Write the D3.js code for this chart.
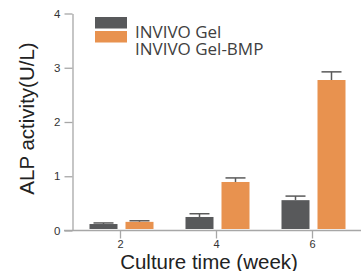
<!DOCTYPE html>
<html><head><meta charset="utf-8">
<script src="https://cdn.jsdelivr.net/npm/d3@7"></script>
<style>
html,body{margin:0;padding:0;background:#fff;}
svg{display:block;}
</style></head>
<body>
<svg id="c" width="361" height="271"></svg>
<script>
const categories = ["2", "4", "6"];
const seriesNames = ["INVIVO Gel", "INVIVO Gel-BMP"];
const gelValues = [0.11, 0.24, 0.55];
const gelErrors = [0.02, 0.06, 0.075];
const bmpValues = [0.15, 0.885, 2.765];
const bmpErrors = [0.02, 0.075, 0.15];
const yTicks = [0, 1, 2, 3, 4];
const colors = ["#58595b", "#e8924f"];

const svg = d3.select("#c");
const W = 361, H = 271;
const y = d3.scaleLinear().domain([0, 4]).range([230, 13]);
const x = d3.scaleBand().domain(categories).range([72.5, 360.5]).padding(0);
const x1 = d3.scaleBand().domain(seriesNames).range([0, 64]).paddingInner(0.2222).paddingOuter(0);

const axisColor = "#a7a7a7";
const font = "'Liberation Sans', Arial, Helvetica, sans-serif";

// x axis baseline
svg.append("line").attr("x1", 64).attr("x2", W).attr("y1", y(0) + 0.5).attr("y2", y(0) + 0.5)
  .attr("stroke", axisColor).attr("stroke-width", 1.3);

// y axis
const gy = svg.append("g").attr("transform", "translate(72.5,0.5)")
  .call(d3.axisLeft(y).tickValues(yTicks).tickFormat(d3.format("d")).tickSize(8).tickSizeOuter(0).tickPadding(4));
gy.select(".domain").attr("stroke", axisColor).attr("stroke-width", 1.3);
gy.selectAll(".tick line").attr("stroke", axisColor).attr("stroke-width", 1.3);
gy.selectAll(".tick text").attr("fill", "#333").style("font-family", font).style("font-size", "11.5px");

// x axis ticks
const gx = svg.append("g").attr("transform", `translate(0,${y(0) + 0.5})`)
  .call(d3.axisBottom(x).tickSize(8).tickSizeOuter(0).tickPadding(2));
gx.select(".domain").remove();
gx.selectAll(".tick line").attr("stroke", axisColor).attr("stroke-width", 1.3);
gx.selectAll(".tick text").attr("fill", "#333").style("font-family", font).style("font-size", "11px");

// bars
const rows = categories.map((c, i) => [
  {cat: c, s: seriesNames[0], v: gelValues[i], e: gelErrors[i], col: colors[0]},
  {cat: c, s: seriesNames[1], v: bmpValues[i], e: bmpErrors[i], col: colors[1]}
]).flat();
const groupStart = c => x(c) + x.bandwidth() / 2 - 31;

// error bars
const eg = svg.append("g");
rows.forEach(r => {
  const cx = groupStart(r.cat) + x1(r.s) + x1.bandwidth() / 2;
  eg.append("line").attr("x1", cx).attr("x2", cx).attr("y1", y(r.v)).attr("y2", y(r.v + r.e))
    .attr("stroke", "#5a5a5a").attr("stroke-width", 1.5);
  eg.append("line").attr("x1", cx - 10).attr("x2", cx + 10).attr("y1", y(r.v + r.e)).attr("y2", y(r.v + r.e))
    .attr("stroke", "#5a5a5a").attr("stroke-width", 1.5);
});

svg.append("g").selectAll("rect").data(rows).join("rect")
  .attr("x", d => groupStart(d.cat) + x1(d.s))
  .attr("width", x1.bandwidth())
  .attr("y", d => y(d.v))
  .attr("height", d => y(0) - 1 - y(d.v))
  .attr("fill", d => d.col);

// legend
const lg = svg.append("g");
seriesNames.forEach((s, i) => {
  lg.append("rect").attr("x", 95).attr("y", 17 + i * 14).attr("width", 32).attr("height", 11.5).attr("fill", colors[i]);
  lg.append("text").attr("x", 135).attr("y", 38 + i * 17).text(s)
    .attr("fill", "#404040").style("font-family", "'Open Sans', 'Noto Sans', sans-serif").style("font-size", "17px");
});

// axis titles
svg.append("text").attr("x", 209).attr("y", 268.5).attr("text-anchor", "middle")
  .style("font-family", font).style("font-size", "20.5px").attr("fill", "#222").text("Culture time (week)");
svg.append("text").attr("transform", "translate(34,118.5) rotate(-90)").attr("text-anchor", "middle")
  .style("font-family", font).style("font-size", "20.5px").attr("fill", "#222").text("ALP activity(U/L)");
</script>
</body></html>
